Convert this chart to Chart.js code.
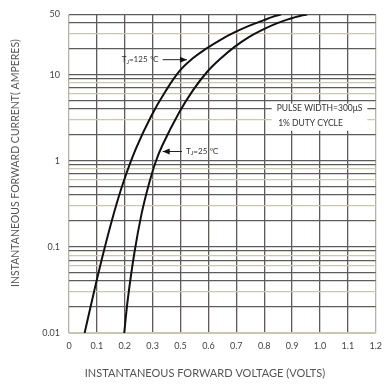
<!DOCTYPE html>
<html>
<head>
<meta charset="utf-8">
<script src="https://cdn.jsdelivr.net/npm/chart.js@4"></script>
<style>
  html, body { margin: 0; padding: 0; background: #fff; }
  #wrap { width: 390px; height: 386px; }
</style>
</head>
<body>
<div id="wrap"><canvas id="ivChart" width="390" height="386"></canvas></div>
<script>
// tick labels as printed on the sheet (0.4 is missing there)
const xTickLabels = ['0', '0.1', '0.2', '0.3', '0.5', '0.6', '0.7', '0.8', '0.9', '1.0', '1.1', '1.2'];
const yLabelValues = [0.01, 0.1, 1, 10, 50];
const yGridValues = [
  0.01, 0.02, 0.03, 0.04, 0.05, 0.06, 0.07, 0.08, 0.09,
  0.1, 0.2, 0.3, 0.4, 0.5, 0.6, 0.7, 0.8, 0.9,
  1, 2, 3, 4, 5, 6, 7, 8, 9,
  10, 20, 30, 40, 50
];

// curves (x in 0.1 per grid division)
const hotX = [0.056, 0.09, 0.125, 0.16, 0.195, 0.24, 0.295, 0.345, 0.396, 0.445, 0.495, 0.545, 0.595, 0.645, 0.697, 0.73, 0.761];
const hotY = [0.01, 0.0304, 0.0895, 0.2393, 0.5623, 1.38, 3.3, 6.31, 10.96, 15.56, 20.28, 25.53, 31.05, 36.73, 42.66, 46.77, 50];
const coldX = [0.198, 0.212, 0.235, 0.26, 0.285, 0.31, 0.335, 0.395, 0.445, 0.495, 0.545, 0.595, 0.645, 0.697, 0.745, 0.796, 0.825, 0.854];
const coldY = [0.01, 0.0263, 0.0871, 0.24, 0.5129, 0.955, 1.514, 3.631, 6.607, 10.72, 15.49, 21.13, 27.23, 33.5, 39.36, 44.87, 47.64, 50];

const toPoints = (xs, ys) => xs.map((x, i) => ({ x: x, y: ys[i] }));

const DARK = '#5c5c5c';
const BEIGE = '#c8c8b0';
const VLINE = '#635858';
const FONT = 'Lato, "DejaVu Sans", sans-serif';

// labels, arrows and the white box
const notesPlugin = {
  id: 'notes',
  afterDatasetsDraw(chart) {
    const ctx = chart.ctx;
    const xs = chart.scales.x, ys = chart.scales.y;
    const px = v => xs.getPixelForValue(v);
    const py = v => ys.getPixelForValue(v);
    ctx.save();

    // box behind pulse note
    ctx.fillStyle = '#fff';
    ctx.fillRect(px(0.727), py(4.6), px(1.07) - px(0.727), py(2.23) - py(4.6));

    ctx.fillStyle = '#333';
    ctx.textBaseline = 'middle';
    ctx.font = '8.5px ' + FONT;
    ctx.fillText('PULSE WIDTH=300\u03bcS', px(0.745), py(4.03));
    ctx.fillText('1% DUTY CYCLE', px(0.75), py(2.69));

    function tjLabel(x, y, txt) {
      let cx = px(x);
      const cy = py(y);
      ctx.font = '8px ' + FONT;
      ctx.fillText('T', cx, cy);
      cx += ctx.measureText('T').width;
      ctx.font = '6px ' + FONT;
      ctx.fillText('J', cx, cy + 2);
      cx += ctx.measureText('J').width;
      ctx.font = '8px ' + FONT;
      ctx.fillText(txt, cx, cy);
    }
    function arrow(x1, x2, y) {
      const a = px(x1), b = px(x2), c = py(y);
      ctx.strokeStyle = '#222';
      ctx.lineWidth = 1;
      ctx.beginPath();
      ctx.moveTo(a, c);
      ctx.lineTo(b, c);
      ctx.stroke();
      const dir = b > a ? 1 : -1;
      ctx.beginPath();
      ctx.moveTo(b, c);
      ctx.lineTo(b - dir * 7, c - 3);
      ctx.lineTo(b - dir * 7, c + 3);
      ctx.closePath();
      ctx.fillStyle = '#111';
      ctx.fill();
      ctx.fillStyle = '#333';
    }
    tjLabel(0.189, 14.9, '=125 \u2103');
    arrow(0.336, 0.423, 14.9);
    tjLabel(0.42, 1.28, '=25 \u2103');
    arrow(0.405, 0.336, 1.28);

    // axis titles
    ctx.fillStyle = '#555';
    ctx.textAlign = 'center';
    ctx.font = '11px ' + FONT;
    ctx.fillText('INSTANTANEOUS FORWARD VOLTAGE (VOLTS)', 205, 373);
    ctx.font = '10.5px ' + FONT;
    ctx.translate(16, 163);
    ctx.rotate(-Math.PI / 2);
    ctx.fillText('INSTANTANEOUS FORWARD CURRENT( AMPERES)', 0, 0);
    ctx.restore();
  }
};

const ivChart = new Chart(document.getElementById('ivChart').getContext('2d'), {
  type: 'line',
  data: {
    datasets: [{
      label: 'TJ=125',
      data: toPoints(hotX, hotY),
      borderColor: '#111',
      borderWidth: 2,
      pointRadius: 0,
      tension: 0.4,
      fill: false,
    }, {
      label: 'TJ=25',
      data: toPoints(coldX, coldY),
      borderColor: '#111',
      borderWidth: 2,
      pointRadius: 0,
      tension: 0.4,
      fill: false,
    }],
  },
  options: {
    responsive: false,
    animation: false,
    layout: { padding: { left: 0, right: 0, top: 11, bottom: 0 } },
    plugins: { legend: { display: false }, tooltip: { enabled: false } },
    scales: {
      x: {
        type: 'linear',
        min: 0,
        max: 1.1,
        afterBuildTicks: s => { s.ticks = xTickLabels.map((_, i) => ({ value: i * 0.1 })); },
        afterFit: s => { s.height = 53; },
        ticks: {
          autoSkip: false,
          maxRotation: 0,
          padding: 8,
          color: '#444',
          font: { family: FONT, size: 9 },
          callback: (v, i) => xTickLabels[i],
        },
        grid: {
          color: ctx => (ctx.index === 0 || ctx.index === xTickLabels.length - 1) ? '#b8b0a8' : VLINE,
          lineWidth: 1.3,
          drawTicks: false,
        },
        border: { display: false },
      },
      y: {
        type: 'logarithmic',
        min: 0.01,
        max: 50,
        afterBuildTicks: s => { s.ticks = yGridValues.map(v => ({ value: v })); },
        afterFit: s => { s.width = 69; },
        ticks: {
          autoSkip: false,
          padding: 9,
          color: '#444',
          font: { family: FONT, size: 9 },
          callback: v => yLabelValues.includes(v) ? String(v) : '',
        },
        grid: {
          color: ctx => {
            const v = ctx.tick.value;
            const m = Math.round(v / Math.pow(10, Math.floor(Math.log10(v) + 1e-9)));
            if (v === 0.01) return BEIGE;
            return (m === 3 || m === 6 || m === 8) ? BEIGE : DARK;
          },
          lineWidth: ctx => (ctx.tick.value === 0.01 ? 2 : 1.3),
          drawTicks: false,
        },
        border: { display: false },
      },
    },
  },
  plugins: [notesPlugin],
});
</script>
</body>
</html>
